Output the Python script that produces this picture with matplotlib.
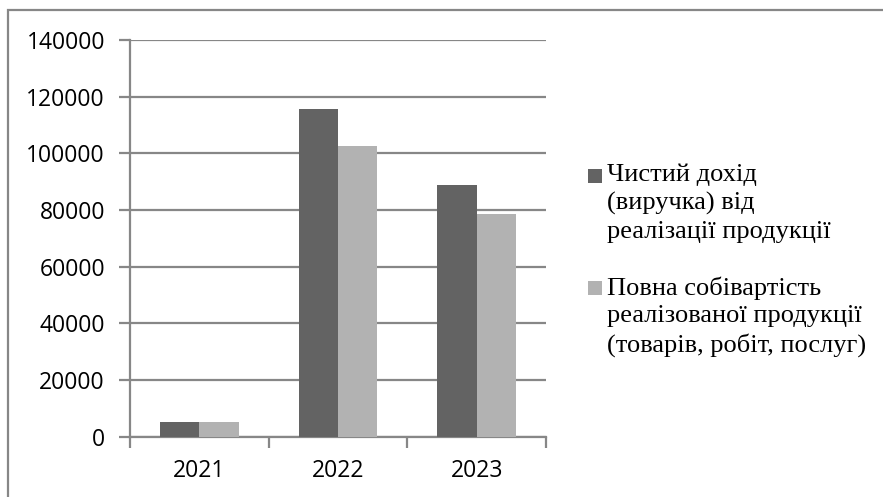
import matplotlib
matplotlib.use("Agg")
import matplotlib.pyplot as plt
from matplotlib.patches import Rectangle
import numpy as np

years = ["2021", "2022", "2023"]
revenue = [5100, 115500, 88800]
cost = [5100, 102600, 78600]
labels = [
    "Чистий дохід\n(виручка) від\nреалізації продукції",
    "Повна собівартість\nреалізованої продукції\n(товарів, робіт, послуг)",
]
yticks = [0, 20000, 40000, 60000, 80000, 100000, 120000, 140000]

W, H = 883, 497
fig = plt.figure(figsize=(W / 100, H / 100), dpi=100)
fig.patch.set_facecolor("white")

grey = "#878787"
colors = ["#636363", "#b2b2b2"]
ax = fig.add_axes([130 / W, 1 - 436.7 / H, 416 / W, (436.7 - 40) / H])

x = np.arange(len(years))
bw = 0.2835
ax.bar(x - bw / 2, revenue, bw, color=colors[0], zorder=3)
ax.bar(x + bw / 2, cost, bw, color=colors[1], zorder=3)

ax.set_xlim(-0.5, 2.5)
ax.set_ylim(0, 140000)
ax.set_yticks(yticks)
ax.set_yticklabels([str(v) for v in yticks], family="Open Sans", fontsize=16.5)
ax.yaxis.grid(True, color=grey, linewidth=1.6, zorder=0)
ax.set_axisbelow(True)

# category ticks on the boundaries, labels centred
ax.set_xticks([-0.5, 0.5, 1.5, 2.5])
ax.set_xticklabels([])
ax.set_xticks(x, minor=True)
ax.set_xticklabels(years, minor=True, family="Open Sans", fontsize=16.5)
ax.tick_params(axis="x", which="minor", length=0, pad=16)
ax.tick_params(axis="x", which="major", length=8, width=1.6, color=grey)
ax.tick_params(axis="y", length=8, width=1.6, color=grey, pad=10)

for s in ["top", "right"]:
    ax.spines[s].set_visible(False)
for s in ["left", "bottom"]:
    ax.spines[s].set_color(grey)
    ax.spines[s].set_linewidth(1.6)

# legend: square key aligned with the first line of each label
key_x = 588
text_x = 607
tops = [164, 276]
key_tops = [169, 281]
for lab, col, top, ktop in zip(labels, colors, tops, key_tops):
    fig.patches.append(
        Rectangle((key_x / W, 1 - (ktop + 14) / H), 13.5 / W, 14 / H,
                  transform=fig.transFigure, facecolor=col, edgecolor="none")
    )
    fig.text(text_x / W, 1 - top / H, lab, family="Liberation Serif",
             fontsize=19, va="top", ha="left", linespacing=1.33)

# outer chart frame
fig.patches.append(
    Rectangle((8 / W, -0.05), 1.1, 1 - 10 / H + 0.05, transform=fig.transFigure,
              fill=False, edgecolor=grey, linewidth=1.6)
)

fig.savefig("out.png", dpi=100)
